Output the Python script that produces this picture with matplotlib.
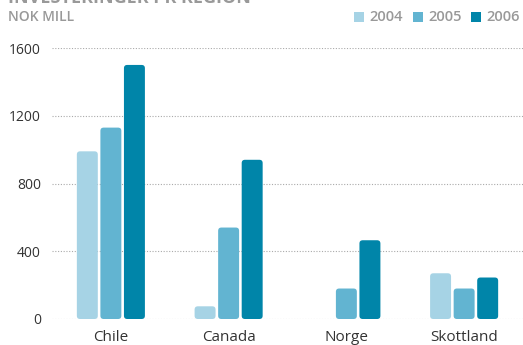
import matplotlib.pyplot as plt
from matplotlib.patches import FancyBboxPatch, Rectangle
import numpy as np

plt.rcParams['font.family'] = ['Open Sans', 'DejaVu Sans']

regions = ['Chile', 'Canada', 'Norge', 'Skottland']
years = ['2004', '2005', '2006']
inv_2004 = [990, 75, 0, 270]
inv_2005 = [1130, 540, 180, 180]
inv_2006 = [1500, 940, 465, 245]
colors = ['#a6d3e5', '#62b4d1', '#0085a9']

fig = plt.figure(figsize=(5.23, 3.45), dpi=100)
ax = fig.add_axes([52 / 523, (345 - 319) / 345, 471 / 523, 271 / 345])

x = np.arange(len(regions))
step = 0.2
width = 0.178
for i, (vals, c) in enumerate(zip([inv_2004, inv_2005, inv_2006], colors)):
    bars = ax.bar(x + (i - 1) * step, vals, width=width, color=c)
    # swap the square bars for rounded ones
    for b in bars:
        b.set_visible(False)
        if b.get_height() <= 0:
            continue
        ax.add_patch(FancyBboxPatch((b.get_x(), 0), b.get_width(), b.get_height(),
                                    boxstyle='round,pad=0,rounding_size=0.028',
                                    mutation_aspect=680, fc=c, ec='none', zorder=3))

ax.set_xlim(-0.5, 3.5)
ax.set_ylim(0, 1600)
ax.set_yticks([0, 400, 800, 1200, 1600])
ax.set_xticks(x)
ax.set_xticklabels(regions, fontsize=11, color='#333333')
ax.tick_params(axis='y', length=0, pad=8, labelsize=10, labelcolor='#333333')
ax.tick_params(axis='x', length=0, pad=8)
ax.grid(axis='y', linestyle=(0, (1, 1.5)), color='#aaaaaa', linewidth=0.8, zorder=0)
ax.set_axisbelow(True)
for s in ax.spines.values():
    s.set_visible(False)

fig.text(8 / 523, 1 - 3 / 345, 'INVESTERINGER PR REGION', fontsize=13, fontweight='bold',
         color='#999999', va='baseline', ha='left')
fig.text(8 / 523, 1 - 17 / 345, 'NOK MILL', fontsize=10, fontweight='semibold',
         color='#999999', va='center', ha='left')

# legend squares on the top right
lx = [354, 413, 471]
for xs, yr, c in zip(lx, years, colors):
    fig.patches.append(Rectangle((xs / 523, 1 - 22 / 345), 10 / 523, 10 / 345,
                                 transform=fig.transFigure, fc=c, ec='none'))
    fig.text((xs + 15) / 523, 1 - 17 / 345, yr, fontsize=10.5, fontweight='semibold',
             color='#999999', va='center', ha='left')

fig.savefig('out.png', dpi=100, facecolor='white')
